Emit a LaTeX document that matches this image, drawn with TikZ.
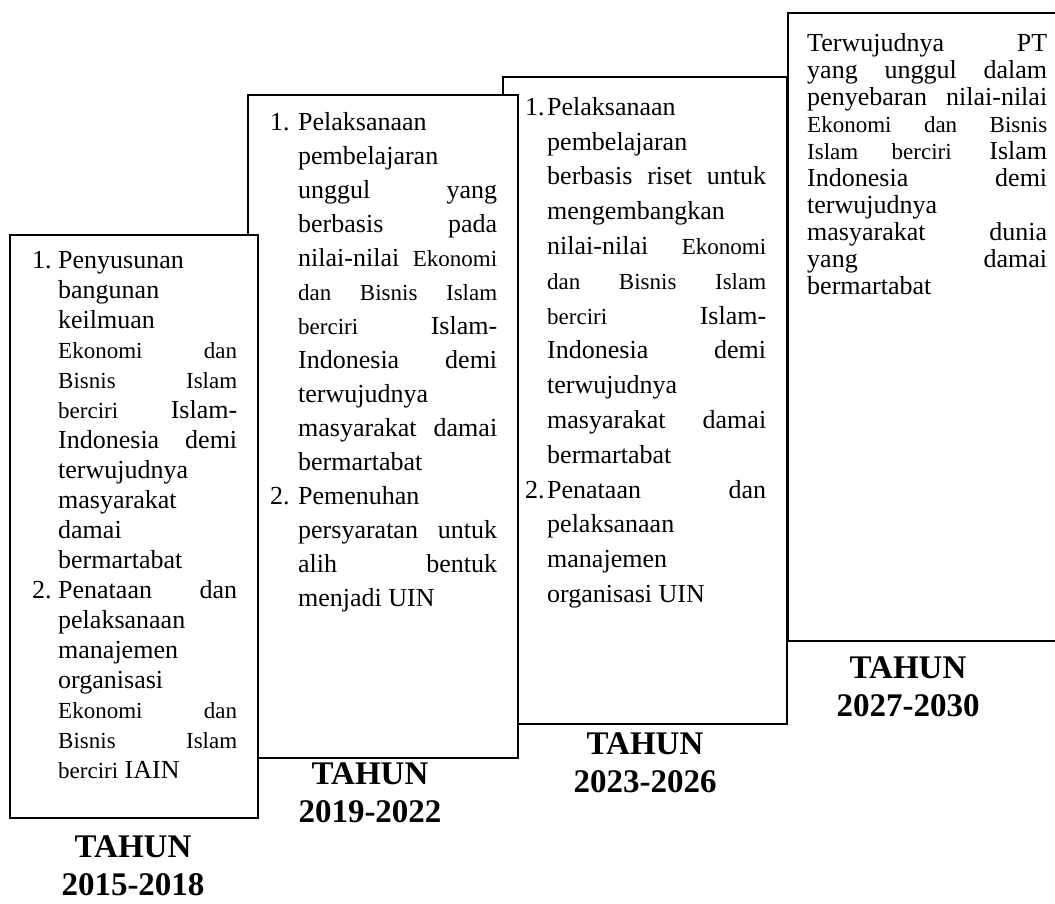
\documentclass[tikz,border=0pt]{standalone}
\usepackage{fontspec}
\setmainfont{Liberation Serif}
\newcommand{\kecil}[1]{{\fontsize{23}{23}\selectfont #1}}
% bentuk paragraf: lebar, indent, lebar-indent (11 baris butir 1)
\newcommand{\bentuk}[3]{\noindent\parshape 13 0pt #1 #2 #3 #2 #3 #2 #3 #2 #3 #2 #3 #2 #3 #2 #3 #2 #3 #2 #3 #2 #3 0pt #1 #2 #3\relax}
\hyphenpenalty=10000
\tolerance=10000
\hbadness=10000
\begin{document}
\begin{tikzpicture}[x=1pt,y=-1pt,
	kotak/.style={draw,line width=1.6pt,fill=white,anchor=north west,inner sep=0pt},
	isi/.style={anchor=north west,inner sep=0pt,align=justify,font=\fontsize{26}{#1}\selectfont},
	tahun/.style={anchor=north,inner sep=0pt,align=center,font=\fontsize{33}{38}\selectfont\bfseries}]
	\useasboundingbox (0,0) rectangle (1055,903);
	\clip (0,0) rectangle (1055,903);
	% 2027-2030
	\node [kotak,minimum width=300pt,minimum height=628pt] (b4) at (787,12) {};
	\node [isi=27,text width=240pt] (isi4) at (807,33) {\noindent Terwujudnya PT\linebreak yang unggul dalam\linebreak penyebaran nilai-nilai\linebreak \kecil{Ekonomi dan Bisnis}\linebreak \kecil{Islam berciri} Islam\linebreak Indonesia demi\linebreak terwujudnya\linebreak masyarakat dunia\linebreak yang damai\linebreak bermartabat\par};
	\node [tahun] (t4) at (908,657) {TAHUN\\2027-2030};
	% 2023-2026
	\node [kotak,minimum width=284pt,minimum height=647pt] (b3) at (502,76) {};
	\node [isi=34.8,text width=241pt] (isi3) at (525,97) {\bentuk{241pt}{22pt}{219pt}\makebox[22pt][l]{1.}Pelaksanaan\linebreak pembelajaran\linebreak berbasis riset untuk\linebreak mengembangkan\linebreak nilai-nilai \kecil{Ekonomi}\linebreak \kecil{dan Bisnis Islam}\linebreak \kecil{berciri} Islam-\linebreak Indonesia demi\linebreak terwujudnya\linebreak masyarakat damai\linebreak bermartabat\linebreak
	\makebox[22pt][l]{2.}Penataan dan\linebreak pelaksanaan\linebreak manajemen\linebreak organisasi UIN\par};
	\node [tahun] (t3) at (645,733) {TAHUN\\2023-2026};
	% 2019-2022
	\node [kotak,minimum width=270pt,minimum height=663pt] (b2) at (247,94) {};
	\node [isi=34,text width=227pt] (isi2) at (270,112) {\bentuk{227pt}{28pt}{199pt}\makebox[28pt][l]{1.}Pelaksanaan\linebreak pembelajaran\linebreak unggul yang\linebreak berbasis pada\linebreak nilai-nilai \kecil{Ekonomi}\linebreak \kecil{dan Bisnis Islam}\linebreak \kecil{berciri} Islam-\linebreak Indonesia demi\linebreak terwujudnya\linebreak masyarakat damai\linebreak bermartabat\linebreak
	\makebox[28pt][l]{2.}Pemenuhan\linebreak persyaratan untuk\linebreak alih bentuk\linebreak menjadi UIN\par};
	\node [tahun] (t2) at (370,763) {TAHUN\\2019-2022};
	% 2015-2018
	\node [kotak,minimum width=248pt,minimum height=583pt] (b1) at (9,234) {};
	\node [isi=30,text width=205pt] (isi1) at (32,251) {\bentuk{205pt}{26pt}{179pt}\makebox[26pt][l]{1.}Penyusunan\linebreak bangunan\linebreak keilmuan\linebreak \kecil{Ekonomi dan}\linebreak \kecil{Bisnis Islam}\linebreak \kecil{berciri} Islam-\linebreak Indonesia demi\linebreak terwujudnya\linebreak masyarakat\linebreak damai\linebreak bermartabat\linebreak
	\makebox[26pt][l]{2.}Penataan dan\linebreak pelaksanaan\linebreak manajemen\linebreak organisasi\linebreak \kecil{Ekonomi dan}\linebreak \kecil{Bisnis Islam}\linebreak \kecil{berciri} IAIN\par};
	\node [tahun] (t1) at (133,836) {TAHUN\\2015-2018};
\end{tikzpicture}
\end{document}
